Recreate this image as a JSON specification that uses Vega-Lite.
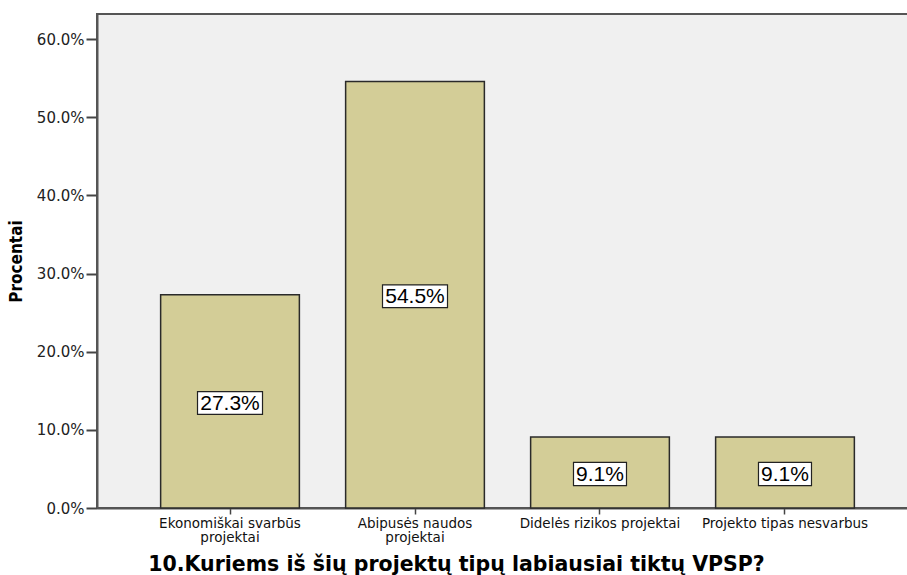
{
  "$schema": "https://vega.github.io/schema/vega-lite/v6.json",
  "autosize": {"type": "none"},
  "padding": {"left": 97, "top": 14, "right": 0, "bottom": 67},
  "width": 821,
  "height": 494,
  "background": "white",
  "config": {
    "view": {"fill": "#f0f0f0", "stroke": "#555555", "strokeWidth": 2},
    "axis": {"grid": false}
  },
  "data": {
    "values": [
      {"category": "Ekonomiškai svarbūs projektai", "value": 27.27, "label": "27.3%"},
      {"category": "Abipusės naudos projektai", "value": 54.55, "label": "54.5%"},
      {"category": "Didelės rizikos projektai", "value": 9.09, "label": "9.1%"},
      {"category": "Projekto tipas nesvarbus", "value": 9.09, "label": "9.1%"}
    ]
  },
  "encoding": {
    "x": {
      "field": "category",
      "type": "nominal",
      "sort": null,
      "scale": {"paddingInner": 0.25, "paddingOuter": 0.344},
      "axis": {
        "title": "10.Kuriems iš šių projektų tipų labiausiai tiktų VPSP?",
        "titleFont": "DejaVu Sans",
        "titleFontSize": 20.5,
        "titleFontWeight": "bold",
        "titleColor": "#000000",
        "titleX": 359,
        "titleY": 66,
        "titleBaseline": "bottom",
        "titleAnchor": "middle",
        "labelAngle": 0,
        "labelFont": "DejaVu Sans",
        "labelFontSize": 13.5,
        "labelColor": "#111111",
        "labelPadding": 2,
        "labelLineHeight": 14.5,
        "tickSize": 6,
        "tickColor": "#444444",
        "tickWidth": 1.5,
        "domainColor": "#555555",
        "domainWidth": 2,
        "labelExpr": "datum.value == 'Ekonomiškai svarbūs projektai' ? ['Ekonomiškai svarbūs', 'projektai'] : datum.value == 'Abipusės naudos projektai' ? ['Abipusės naudos', 'projektai'] : datum.value"
      }
    },
    "y": {
      "field": "value",
      "type": "quantitative",
      "scale": {"domain": [0, 63.2], "nice": false},
      "axis": {
        "title": "Procentai",
        "titleFont": "DejaVu Sans Condensed",
        "titleFontSize": 17,
        "titleFontWeight": "bold",
        "titleColor": "#000000",
        "titlePadding": 11,
        "values": [0, 10, 20, 30, 40, 50, 60],
        "labelExpr": "format(datum.value, '.1f') + '%'",
        "labelFont": "DejaVu Sans",
        "labelFontSize": 15,
        "labelColor": "#222222",
        "labelPadding": 2,
        "tickSize": 11,
        "tickColor": "#444444",
        "tickWidth": 2,
        "domainColor": "#555555",
        "domainWidth": 2
      }
    }
  },
  "layer": [
    {
      "mark": {"type": "bar", "fill": "#d3cd97", "stroke": "#2a2a2a", "strokeWidth": 1.5}
    },
    {
      "mark": {"type": "point", "filled": true, "fill": "white", "stroke": "#222222", "strokeWidth": 1.2, "opacity": 1, "yOffset": {"expr": "datum.value * 494 / 63.2 / 2 + 1.5"}},
      "encoding": {
        "shape": {
          "condition": {"test": "datum.value < 10", "value": "M-1,-0.44L1,-0.44L1,0.44L-1,0.44Z"},
          "value": "M-1,-0.35L1,-0.35L1,0.35L-1,0.35Z"
        },
        "size": {"condition": {"test": "datum.value < 10", "value": 2809}, "value": 4225}
      }
    },
    {
      "mark": {"type": "text", "font": "Liberation Sans", "fontSize": 21, "color": "#000000", "baseline": "middle", "align": "center", "yOffset": {"expr": "datum.value * 494 / 63.2 / 2 + 2.5"}},
      "encoding": {
        "text": {"field": "label"}
      }
    }
  ]
}
